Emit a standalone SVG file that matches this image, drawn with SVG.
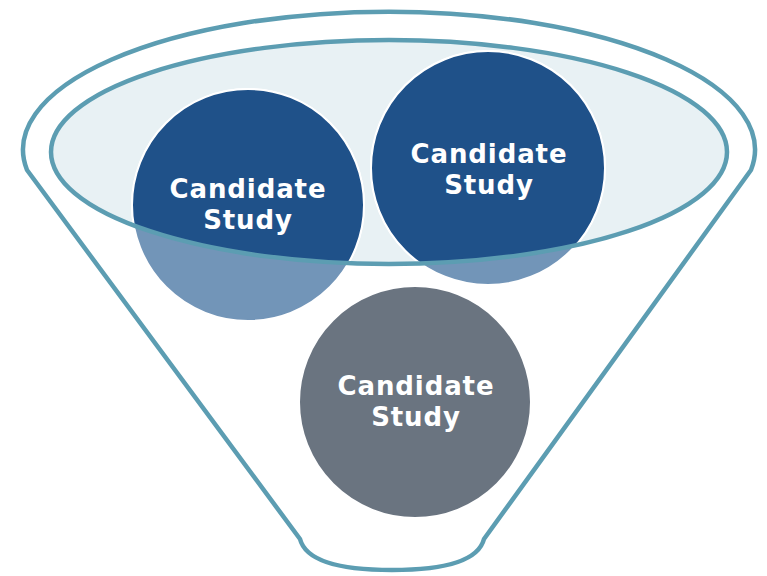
<svg xmlns="http://www.w3.org/2000/svg" width="767" height="576" viewBox="0 0 767 576">
<style>
.line{fill:none;stroke:#5c9db2;stroke-width:4.5}
.lbl{font-family:"DejaVu Sans",sans-serif;font-weight:bold;font-size:26px;letter-spacing:0.9px;fill:#ffffff;text-anchor:middle}
.light{fill:#7295b8;stroke:#ffffff;stroke-width:2}
.dark{fill:#1f5189;stroke:#ffffff;stroke-width:2}
</style>
<defs>
<clipPath id="rim"><ellipse cx="389" cy="152" rx="338" ry="112"/></clipPath>
</defs>
<g id="funnel">
<path d="M 27,170 A 366,138 0 1 1 751,170 L 484,539 Q 476,570 392,570 Q 308,570 300,539 Z" fill="#ffffff" stroke="#5c9db2" stroke-width="4.5" stroke-linejoin="round"/>
<ellipse cx="389" cy="152" rx="338" ry="112" fill="#e8f1f4"/>
</g>
<g id="study3">
<circle cx="415" cy="402" r="116" fill="#6a7480" stroke="#ffffff" stroke-width="2"/>
<text class="lbl" x="416" y="395">Candidate</text>
<text class="lbl" x="416" y="426">Study</text>
</g>
<g id="study1">
<circle class="light" cx="248" cy="205" r="116"/>
<circle class="dark" cx="248" cy="205" r="116" clip-path="url(#rim)"/>
<text class="lbl" x="248" y="198">Candidate</text>
<text class="lbl" x="248" y="229">Study</text>
</g>
<g id="study2">
<circle class="light" cx="488" cy="168" r="117"/>
<circle class="dark" cx="488" cy="168" r="117" clip-path="url(#rim)"/>
<text class="lbl" x="489" y="163">Candidate</text>
<text class="lbl" x="489" y="194">Study</text>
</g>
<g id="rim-line">
<ellipse class="line" cx="389" cy="152" rx="338" ry="112"/>
</g>
</svg>
